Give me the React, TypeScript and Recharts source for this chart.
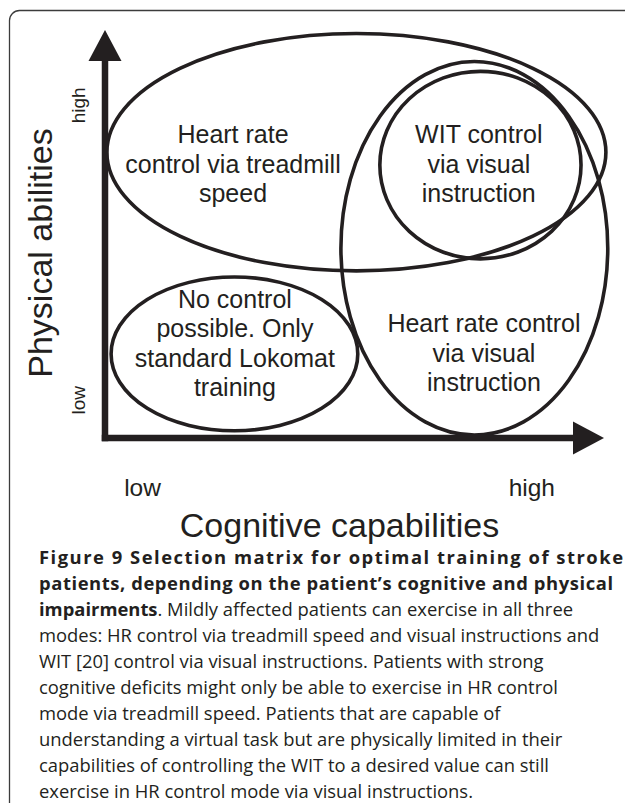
import React from 'react';
import { ComposedChart, XAxis, YAxis, Scatter, ReferenceArea, ReferenceDot, Label } from 'recharts';

// axes run from 0 (origin) to 100 (start of the arrow head)
const cognitiveTicks = [8, 91];
const cognitiveTickNames = ['low', 'high'];
const physicalTicks = [10, 88];
const physicalTickNames = ['low', 'high'];

// training modes, drawn as ellipses in axis units
const modeIds = ['treadmill', 'wit', 'standard', 'visual'];
const modeCogFrom = [0.4, 58.6, 1.3, 50.3];
const modeCogTo = [106.8, 101.5, 53.9, 107.2];
const modePhysFrom = [44.2, 47.4, 1.9, 0.8];
const modePhysTo = [107.0, 97.0, 42.6, 99.6];

const modeText = [
  ['Heart rate', 'control via treadmill', 'speed'],
  ['WIT control', 'via visual', 'instruction'],
  ['No control', 'possible. Only', 'standard Lokomat', 'training'],
  ['Heart rate control', 'via visual', 'instruction'],
];
const modeTextCog = [27.3, 79.7, 27.7, 80.8];
const modeTextPhys = [78.0, 78.0, 34.4, 28.0];

const captionLines = [
  [{ t: 'Figure 9 Selection matrix for optimal training of stroke', b: true }],
  [{ t: 'patients, depending on the patient\u2019s cognitive and physical', b: true }],
  [{ t: 'impairments', b: true }, { t: '. Mildly affected patients can exercise in all three' }],
  [{ t: 'modes: HR control via treadmill speed and visual instructions and' }],
  [{ t: 'WIT [20] control via visual instructions. Patients with strong' }],
  [{ t: 'cognitive deficits might only be able to exercise in HR control' }],
  [{ t: 'mode via treadmill speed. Patients that are capable of' }],
  [{ t: 'understanding a virtual task but are physically limited in their' }],
  [{ t: 'capabilities of controlling the WIT to a desired value can still' }],
  [{ t: 'exercise in HR control mode via visual instructions.' }],
];

const INK = '#231f20';
const SANS = '"Liberation Sans", Arial, sans-serif';

const labelData = modeIds.map((id, i) => ({
  id,
  x: modeTextCog[i],
  y: modeTextPhys[i],
  lines: modeText[i],
}));

const ModeLabel = (props: any) => {
  const { cx, cy, payload } = props;
  return (
    <text x={cx} y={cy} textAnchor="middle" fontFamily={SANS} fontSize={25} fill={INK}>
      {payload.lines.map((l: string, i: number) => (
        <tspan key={i} x={cx} dy={i === 0 ? 0 : 29.5}>{l}</tspan>
      ))}
    </text>
  );
};

const CogTick = ({ x, y, payload }: any) => (
  <text x={x} y={y} textAnchor="middle" fontFamily={SANS} fontSize={24.5} fill={INK}>
    {cognitiveTickNames[cognitiveTicks.indexOf(payload.value)]}
  </text>
);

const PhysTick = ({ x, y, payload }: any) => (
  <text x={x} y={y} textAnchor="middle" fontFamily={SANS} fontSize={19} fill={INK}
    transform={`rotate(-90 ${x} ${y})`}>
    {physicalTickNames[physicalTicks.indexOf(payload.value)]}
  </text>
);

const ellipseShape = (props: any) => {
  const { x, y, width, height } = props;
  return (
    <ellipse cx={x + width / 2} cy={y + height / 2} rx={Math.abs(width) / 2} ry={Math.abs(height) / 2}
      fill="none" stroke={INK} strokeWidth={3.6} />
  );
};

const App = () => {
  const axisLine = { stroke: INK, strokeWidth: 6.5, strokeLinecap: 'square' as const };
  return (
    <div style={{ position: 'relative', width: 625, height: 803, overflow: 'hidden', background: '#fff' }}>
      <style>{'body{margin:0}'}</style>
      <svg width={625} height={803} style={{ position: 'absolute', left: 0, top: 0 }}>
        <rect x={9.5} y={10.5} width={700} height={900} rx={10} fill="none" stroke="#3c3c3c" strokeWidth={1.3} />
        {captionLines.map((line, i) => (
          <text key={i} x={39} y={564 + i * 26} fontFamily='"Open Sans", sans-serif' fontSize={18.4} fill={INK}
            {...(i < 2 ? { textLength: i === 0 ? 584 : 574, lengthAdjust: 'spacing' } : {})}>
            {line.map((s, j) => (
              <tspan key={j} fontWeight={s.b ? 700 : 400}>{s.t}</tspan>
            ))}
          </text>
        ))}
      </svg>
      <div style={{ position: 'absolute', left: 0, top: 0 }}>
        <ComposedChart width={625} height={560} data={labelData} margin={{ top: 60, right: 51, bottom: 0, left: 0 }}>
          <XAxis type="number" dataKey="x" domain={[0, 100]} height={122}
            ticks={cognitiveTicks} tick={<CogTick />} tickLine={false} tickSize={0} tickMargin={58}
            axisLine={axisLine}>
            <Label content={({ viewBox }: any) => (
              <text x={viewBox.x + viewBox.width / 2} y={viewBox.y + 99} textAnchor="middle"
                fontFamily={SANS} fontSize={34} fill={INK}>Cognitive capabilities</text>
            )} />
          </XAxis>
          <YAxis type="number" dataKey="y" domain={[0, 100]} width={105}
            ticks={physicalTicks} tick={<PhysTick />} tickLine={false} tickSize={0} tickMargin={20}
            axisLine={axisLine}>
            <Label content={({ viewBox }: any) => {
              const lx = viewBox.x + 52;
              const ly = viewBox.y + viewBox.height / 2 + 4;
              return (
                <text x={lx} y={ly} textAnchor="middle" transform={`rotate(-90 ${lx} ${ly})`}
                  fontFamily={SANS} fontSize={34} fill={INK}>Physical abilities</text>
              );
            }} />
          </YAxis>
          {modeIds.map((id, i) => (
            <ReferenceArea key={id} x1={modeCogFrom[i]} x2={modeCogTo[i]} y1={modePhysFrom[i]} y2={modePhysTo[i]}
              ifOverflow="visible" shape={ellipseShape} />
          ))}
          <ReferenceDot x={100} y={0} ifOverflow="visible" shape={(p: any) => (
            <polygon points={`${p.cx - 1},${p.cy - 16.5} ${p.cx + 30},${p.cy} ${p.cx - 1},${p.cy + 16.5}`} fill={INK} />
          )} />
          <ReferenceDot x={0} y={100} ifOverflow="visible" shape={(p: any) => (
            <polygon points={`${p.cx - 16.5},${p.cy + 1} ${p.cx},${p.cy - 30} ${p.cx + 16.5},${p.cy + 1}`} fill={INK} />
          )} />
          <Scatter dataKey="y" isAnimationActive={false} shape={<ModeLabel />} />
        </ComposedChart>
      </div>
    </div>
  );
};

export default App;
